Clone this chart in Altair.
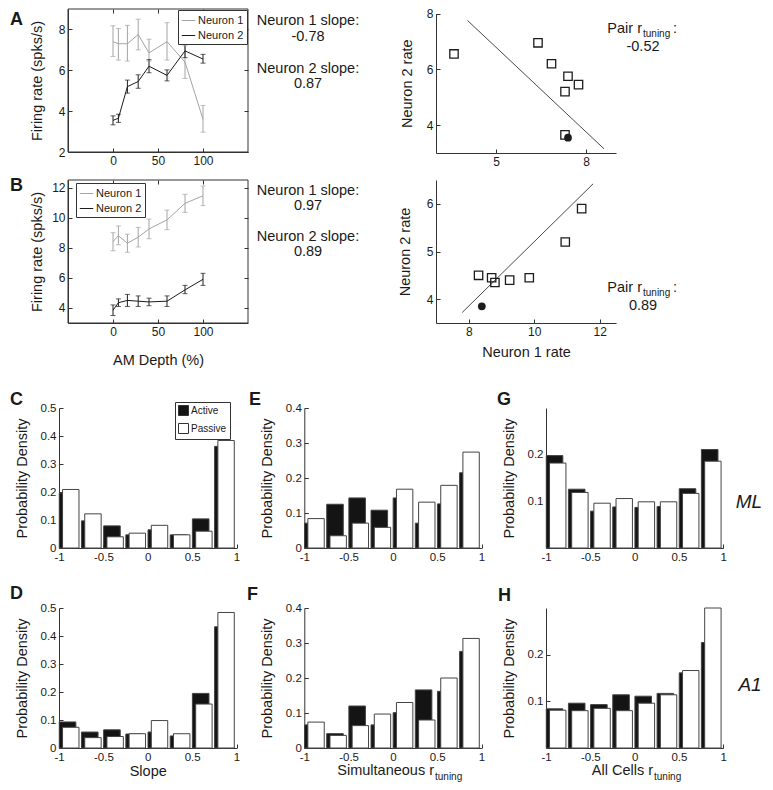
import altair as alt
import pandas as pd

# ---------------- data ----------------
am_depth = [0, 6, 16, 28, 40, 60, 80, 100]

a_n1 = [7.4, 7.3, 7.3, 7.75, 6.85, 7.4, 6.4, 3.6]
a_n1_lo = [6.68, 6.5, 6.45, 7.0, 6.45, 6.5, 5.6, 2.97]
a_n1_hi = [8.18, 8.05, 8.2, 8.5, 7.52, 8.33, 7.2, 4.28]
a_n2 = [3.55, 3.65, 5.2, 5.45, 6.2, 5.75, 6.95, 6.55]
a_n2_lo = [3.33, 3.45, 4.88, 5.12, 5.88, 5.48, 6.62, 6.35]
a_n2_hi = [3.77, 3.85, 5.52, 5.78, 6.52, 6.02, 7.28, 6.78]

b_n1 = [8.4, 8.8, 8.3, 8.7, 9.25, 9.85, 10.95, 11.45]
b_n1_lo = [7.8, 8.2, 7.7, 8.05, 8.6, 9.2, 10.35, 10.8]
b_n1_hi = [9.0, 9.45, 8.9, 9.35, 9.9, 10.5, 11.55, 12.1]
b_n2 = [3.85, 4.35, 4.5, 4.45, 4.4, 4.45, 5.2, 5.9]
b_n2_lo = [3.5, 4.1, 4.1, 4.1, 4.15, 4.1, 4.95, 5.5]
b_n2_hi = [4.2, 4.6, 4.9, 4.8, 4.65, 4.8, 5.5, 6.3]

a_fit_n1 = [4.05, 8.6]
a_fit_n2 = [7.75, 3.15]
b_fit_n1 = [7.8, 11.8]
b_fit_n2 = [3.72, 6.42]

bin_left = [-1.0, -0.75, -0.5, -0.25, 0.0, 0.25, 0.5, 0.75]
C_active = [0.196, 0.097, 0.079, 0.047, 0.065, 0.047, 0.104, 0.363]
C_passive = [0.209, 0.122, 0.040, 0.053, 0.081, 0.047, 0.060, 0.384]
E_active = [0.071, 0.125, 0.143, 0.108, 0.143, 0.071, 0.126, 0.215]
E_passive = [0.084, 0.035, 0.071, 0.059, 0.168, 0.131, 0.179, 0.274]
G_active = [0.198, 0.126, 0.079, 0.088, 0.087, 0.089, 0.127, 0.211]
G_passive = [0.182, 0.119, 0.096, 0.106, 0.099, 0.099, 0.117, 0.186]
D_active = [0.093, 0.057, 0.065, 0.050, 0.057, 0.043, 0.195, 0.433]
D_passive = [0.074, 0.037, 0.041, 0.051, 0.098, 0.051, 0.157, 0.484]
F_active = [0.066, 0.041, 0.120, 0.066, 0.101, 0.166, 0.162, 0.276]
F_passive = [0.074, 0.036, 0.064, 0.097, 0.130, 0.080, 0.200, 0.313]
H_active = [0.084, 0.096, 0.093, 0.114, 0.111, 0.117, 0.161, 0.226]
H_passive = [0.081, 0.080, 0.085, 0.080, 0.096, 0.114, 0.166, 0.300]

# ---------------- style / layout ----------------
W, H = 757, 774
OX, OY = 8, 8
AXC = "#333333"
TXT = "#1a1a1a"
GREY = "#a4a4a4"
DARK = "#1c1c1c"
FONT = "Liberation Sans"
dummy = pd.DataFrame({"k": [0]})


def sx(domain, x0, x1):
    return alt.Scale(domain=domain, range=[x0 - OX, x1 - OX], nice=False, zero=False)


def sy(domain, yb, yt):
    return alt.Scale(domain=domain, range=[yb - OY, yt - OY], nice=False, zero=False)


def mk_axis(orient, pos, values, title="", tcx=0, tcy=0, lsize=12, tsize=14.5):
    if orient == "left":
        off = -(pos - OX)
        tx, ty, ang = tcx - pos, tcy - OY, 270
    else:
        off = -(H - (pos - OY))
        tx, ty, ang = tcx - OX, tcy - pos, 0
    return alt.Axis(
        orient=orient, offset=off, values=values, grid=False,
        domainColor=AXC, tickColor=AXC, domainWidth=1, tickWidth=1,
        tickSize={"expr": "-4"}, labelPadding=7,
        labelFont=FONT, labelFontSize=lsize, labelColor=TXT,
        labelFlush=False, labelOverlap=False,
        labelExpr="toString(datum.value)",
        title=title, titleFont=FONT, titleFontSize=tsize, titleFontWeight="normal",
        titleColor=TXT, titleX=tx, titleY=ty, titleAngle=ang,
        titleAlign="center", titleBaseline="middle",
    )


def mirror_axis(orient, off, values):
    return alt.Axis(orient=orient, offset=off, values=values, grid=False, labels=False,
                    domain=False, tickColor=AXC, tickWidth=1, tickSize={"expr": "-4"},
                    title="")


def line_panel(n1, n1lo, n1hi, n2, n2lo, n2hi, ydom, yvals, X0, X1, Yb, Yt,
               legx, legy, xtitle="", xtcy=0):
    rows = []
    for name, v, lo, hi in (("Neuron 1", n1, n1lo, n1hi), ("Neuron 2", n2, n2lo, n2hi)):
        for d, m, l, h in zip(am_depth, v, lo, hi):
            rows.append({"depth": d, "rate": m, "lo": l, "hi": h, "neuron": name})
    df = pd.DataFrame(rows)
    dom = ["Neuron 1", "Neuron 2"]
    rng = [GREY, DARK]
    frame_df = pd.DataFrame({"x": [-50], "x2": [150], "y": [ydom[0]], "y2": [ydom[1]]})
    xax = mk_axis("bottom", Yb, [0, 50, 100], title=xtitle, tcx=(X0 + X1) / 2, tcy=xtcy)
    yax = mk_axis("left", X0, yvals, title="Firing rate (spks/s)", tcx=X0 - 31, tcy=(Yb + Yt) / 2)
    frame = alt.Chart(frame_df).mark_rect(fillOpacity=0, stroke=AXC, strokeWidth=1).encode(
        x=alt.X("x:Q", scale=sx([-50, 150], X0, X1), axis=xax), x2="x2:Q",
        y=alt.Y("y:Q", scale=sy(ydom, Yb, Yt), axis=yax), y2="y2:Q")
    mirror = alt.Chart(frame_df).mark_rect(fillOpacity=0, strokeOpacity=0).encode(
        x=alt.X("x:Q", scale=sx([-50, 150], X0, X1),
                axis=mirror_axis("top", -(Yt - OY), [0, 50, 100])), x2="x2:Q",
        y=alt.Y("y:Q", scale=sy(ydom, Yb, Yt),
                axis=mirror_axis("right", (X1 - OX) - W, yvals)), y2="y2:Q")

    def xe():
        return alt.X("depth:Q", scale=sx([-50, 150], X0, X1), axis=None)

    def ye(f):
        return alt.Y(f, scale=sy(ydom, Yb, Yt), axis=None)

    def ce():
        return alt.Color("neuron:N", scale=alt.Scale(domain=dom, range=rng), legend=None)

    bars = alt.Chart(df).mark_rule(strokeWidth=1).encode(
        x=xe(), y=ye("lo:Q"), y2="hi:Q", color=ce())
    cap_lo = alt.Chart(df).mark_tick(orient="horizontal", size=5, thickness=1).encode(
        x=xe(), y=ye("lo:Q"), color=ce())
    cap_hi = alt.Chart(df).mark_tick(orient="horizontal", size=5, thickness=1).encode(
        x=xe(), y=ye("hi:Q"), color=ce())
    leg = alt.Legend(orient="none", legendX=legx - OX, legendY=legy - OY, title=None,
                     symbolType="stroke", symbolSize=180, symbolStrokeWidth=1,
                     labelFont=FONT, labelFontSize=11, labelColor=TXT, labelOffset=2,
                     strokeColor=AXC, fillColor="white", padding=3, rowPadding=2)
    line = alt.Chart(df).mark_line(strokeWidth=1).encode(
        x=xe(), y=ye("rate:Q"),
        color=alt.Color("neuron:N", scale=alt.Scale(domain=dom, range=rng), legend=leg))
    return [frame, mirror, bars, cap_lo, cap_hi, line]


def scatter_panel(n1, n2, fx, fy, xdom, xvals, ydom, yvals, X0, X1, Yb, Yt,
                  ytcx, xtitle="", xtcy=0):
    df = pd.DataFrame({"n1": n1, "n2": n2})
    fit = pd.DataFrame({"n1": fx, "n2": fy})
    xax = mk_axis("bottom", Yb, xvals, title=xtitle, tcx=(X0 + X1) / 2, tcy=xtcy)
    yax = mk_axis("left", X0, yvals, title="Neuron 2 rate", tcx=ytcx, tcy=(Yb + Yt) / 2)
    fitl = alt.Chart(fit).mark_line(color=DARK, strokeWidth=0.8).encode(
        x=alt.X("n1:Q", scale=sx(xdom, X0, X1), axis=xax),
        y=alt.Y("n2:Q", scale=sy(ydom, Yb, Yt), axis=yax))
    sq = alt.Chart(df.iloc[1:]).mark_point(shape="square", filled=False, size=70,
                                           color=DARK, strokeWidth=1.3, opacity=1).encode(
        x=alt.X("n1:Q", scale=sx(xdom, X0, X1), axis=None),
        y=alt.Y("n2:Q", scale=sy(ydom, Yb, Yt), axis=None))
    dot = alt.Chart(df.iloc[:1]).mark_point(shape="circle", filled=True, size=60,
                                            color=DARK, opacity=1).encode(
        x=alt.X("n1:Q", scale=sx(xdom, X0, X1), axis=None),
        y=alt.Y("n2:Q", scale=sy(ydom, Yb, Yt), axis=None))
    return [fitl, sq, dot]


def hist_panel(active, passive, X0, X1, Yb, Yt, ydom, yvals, legend_pos=None, xtitle="", xtcy=0):
    rows = []
    for grp, vals, a, b in (("Active", active, 0.003, 0.19), ("Passive", passive, 0.04, 0.225)):
        for lo, v in zip(bin_left, vals):
            rows.append({"x": lo + a, "x2": lo + b, "y": 0.0, "y2": v, "cond": grp})
    df = pd.DataFrame(rows)
    xs = sx([-1, 1], X0, X1)
    ys = sy(ydom, Yb, Yt)
    xax = mk_axis("bottom", Yb, [-1, -0.5, 0, 0.5, 1], title=xtitle, tcx=(X0 + X1) / 2,
                  tcy=xtcy, lsize=11.5)
    yax = mk_axis("left", X0, yvals, title="Probability Density", tcx=X0 - 37,
                  tcy=(Yb + Yt) / 2, lsize=11.5)
    cs = alt.Scale(domain=["Active", "Passive"], range=["#141414", "#ffffff"])
    if legend_pos:
        leg = alt.Legend(orient="none", legendX=legend_pos[0] - OX, legendY=legend_pos[1] - OY,
                         title=None, symbolType="square", symbolSize=100,
                         symbolStrokeColor="#333333", symbolStrokeWidth=1,
                         labelFont=FONT, labelFontSize=10, labelColor=TXT, labelOffset=2,
                         strokeColor=AXC, fillColor="white", padding=3, rowPadding=3)
    else:
        leg = None
    return [alt.Chart(df).mark_rect(stroke="#444444", strokeWidth=1).encode(
        x=alt.X("x:Q", scale=xs, axis=xax), x2="x2:Q",
        y=alt.Y("y:Q", scale=ys, axis=yax), y2="y2:Q",
        color=alt.Color("cond:N", scale=cs, legend=leg))]


def T(s, x, y, size=14.5, align="center", weight="normal", style="normal"):
    return alt.Chart(dummy).mark_text(
        text=s, font=FONT, fontSize=size, align=align, baseline="middle",
        fontWeight=weight, fontStyle=style, color=TXT).encode(
        x=alt.value(x - OX), y=alt.value(y - OY))


def pair(xj, y, val):
    return [T("Pair r", xj, y, align="right"),
            T("tuning", xj + 1, y + 5, size=10, align="left"),
            T(":", xj + 31, y, align="left"),
            T(val, xj + 1, y + 18)]


layers = []
# Panel A
layers += line_panel(a_n1, a_n1_lo, a_n1_hi, a_n2, a_n2_lo, a_n2_hi, [2, 9], [2, 4, 6, 8],
                     68, 248, 152, 9, 178, 10)
layers += scatter_panel(a_n1, a_n2, a_fit_n1, a_fit_n2, [3, 9], [5, 8], [3, 8], [4, 6, 8],
                        436, 616, 153, 13.5, 407)
# Panel B
layers += line_panel(b_n1, b_n1_lo, b_n1_hi, b_n2, b_n2_lo, b_n2_hi, [3, 12.5],
                     [4, 6, 8, 10, 12], 68, 248, 323, 180, 76, 183,
                     xtitle="AM Depth (%)", xtcy=360)
layers += scatter_panel(b_n1, b_n2, b_fit_n1, b_fit_n2, [7, 12.5], [8, 10, 12], [3.5, 6.5],
                        [4, 5, 6], 436, 616, 323, 180, 405,
                        xtitle="Neuron 1 rate", xtcy=352)
# Histograms
layers += hist_panel(C_active, C_passive, 59, 236.5, 548, 408, [0, 0.5],
                     [0, 0.1, 0.2, 0.3, 0.4, 0.5], legend_pos=(175, 402))
layers += hist_panel(E_active, E_passive, 304.3, 481.5, 548, 408, [0, 0.4],
                     [0, 0.1, 0.2, 0.3, 0.4])
layers += hist_panel(G_active, G_passive, 546, 723.3, 548, 408, [0, 0.3], [0.1, 0.2])
layers += hist_panel(D_active, D_passive, 59, 236.5, 748, 608, [0, 0.5],
                     [0, 0.1, 0.2, 0.3, 0.4, 0.5], xtitle="Slope", xtcy=771)
layers += hist_panel(F_active, F_passive, 304.3, 481.5, 748, 608, [0, 0.4],
                     [0, 0.1, 0.2, 0.3, 0.4])
layers += hist_panel(H_active, H_passive, 546, 723.3, 748, 608, [0, 0.3], [0.1, 0.2])

# Text annotations
texts = [
    T("A", 10, 20, size=18, align="left", weight="bold"),
    T("B", 10, 186, size=18, align="left", weight="bold"),
    T("C", 10, 400, size=18, align="left", weight="bold"),
    T("E", 249, 400, size=18, align="left", weight="bold"),
    T("G", 497, 400, size=18, align="left", weight="bold"),
    T("D", 10, 594, size=18, align="left", weight="bold"),
    T("F", 247, 595, size=18, align="left", weight="bold"),
    T("H", 498, 596, size=18, align="left", weight="bold"),
    T("Neuron 1 slope:", 308, 21),
    T("-0.78", 308, 37),
    T("Neuron 2 slope:", 308, 69),
    T("0.87", 308, 84),
    T("Neuron 1 slope:", 308, 191),
    T("0.97", 308, 206),
    T("Neuron 2 slope:", 308, 237),
    T("0.89", 308, 252),
    T("ML", 749, 502, size=19, style="italic"),
    T("A1", 750, 685, size=19, style="italic"),
    T("Simultaneous r", 434, 771, align="right"),
    T("tuning", 435, 777, size=10, align="left"),
    T("All Cells r", 653, 771, align="right"),
    T("tuning", 654, 777, size=10, align="left"),
]
texts += pair(642, 29, "-0.52")
texts += pair(642, 288, "0.89")

chart = alt.layer(*layers, *texts).resolve_scale(
    x="independent", y="independent", color="independent"
).properties(
    width=W, height=H, padding=0,
    autosize=alt.AutoSizeParams(type="none"),
    background="white",
).configure_view(stroke=None)

chart.save("out.html", embed_options={"renderer": "svg", "actions": False})
